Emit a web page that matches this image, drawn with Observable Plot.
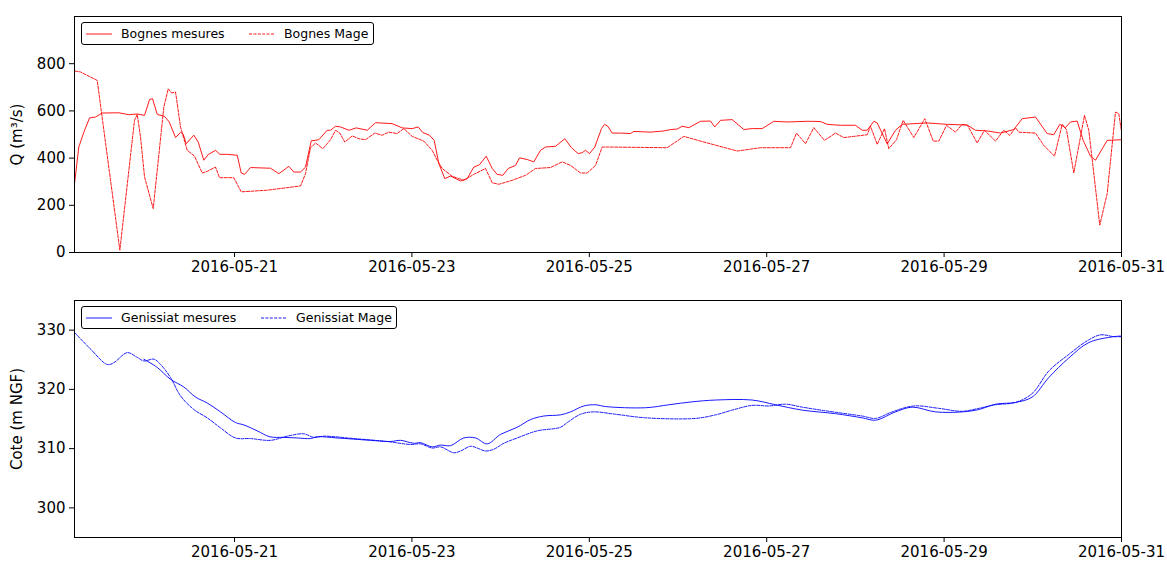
<!DOCTYPE html>
<html>
<head>
<meta charset="utf-8">
<script src="https://cdn.jsdelivr.net/npm/d3@7"></script>
<script src="https://cdn.jsdelivr.net/npm/@observablehq/plot@0.6"></script>
<style>
  html, body { margin: 0; padding: 0; background: #fff; }
  #wrap { position: relative; width: 1167px; height: 561px; font-family: "DejaVu Sans", sans-serif; }
  #wrap svg { display: block; }
  .legend { position: absolute; border: 1px solid #000; border-radius: 3px; background: #fff; box-sizing: border-box; font-size: 12.5px; color: #000; }
  .legend .item { position: absolute; top: 0; height: 100%; display: flex; align-items: center; white-space: nowrap; }
  .legend svg { display: inline-block; }
</style>
</head>
<body>
<div id="wrap"></div>
<script>
// ---- Data (hours since 2016-05-19 00:00 UTC, values) ----
const origin = Date.UTC(2016, 4, 19);
const xStart = "2016-05-19T04:42Z";
const xEnd = "2016-05-31T00:00Z";
const xTicks = ["2016-05-21", "2016-05-23", "2016-05-25", "2016-05-27", "2016-05-29", "2016-05-31"];
const qTicks = [0, 200, 400, 600, 800];
const zTicks = [300, 310, 320, 330];

const bognesMesH = [4.71,5.87,7.23,8.77,10.39,12.20,16.70,19.40,21.67,23.65,25.00,25.81,27.09,29.06,30.33,32.04,33.39,34.12,34.93,36.99,38.18,39.69,40.88,42.86,44.02,46.03,48.73,49.81,50.71,52.33,57.74,59.99,62.69,64.05,65.86,67.21,68.75,70.81,73.08,73.98,75.33,76.68,78.93,80.93,83.91,86.15,90.67,93.38,96.08,97.70,98.95,100.76,102.03,103.28,104.90,106.44,109.15,110.96,112.75,114.29,116.10,117.73,119.08,120.59,122.06,124.03,125.11,127.20,128.98,130.80,132.15,134.85,137.37,139.18,141.00,142.08,142.97,144.05,145.49,147.30,148.11,149.00,150.19,152.44,155.15,156.04,160.56,164.16,165.97,167.78,169.13,170.92,174.09,176.79,177.96,179.50,182.66,185.80,188.08,190.78,193.92,197.54,202.96,206.55,208.37,211.97,216.02,217.84,219.19,220.98,221.90,224.60,226.85,228.66,235.42,240.84,246.25,248.49,251.66,255.26,258.86,261.13,264.73,267.89,269.68,271.30,272.84,274.20,276.01,277.63,279.61,280.96,284.13,288.00];
const bognesMesQ = [292,447,510,570,574,591,592,584,587,581,648,652,585,577,553,487,509,501,461,497,468,391,415,433,416,416,412,337,331,360,357,334,365,341,341,362,473,478,518,518,535,532,518,528,518,550,546,528,525,532,508,497,475,377,313,324,303,313,362,372,408,356,331,327,356,369,401,394,384,433,447,450,482,444,419,423,433,419,447,525,543,535,506,506,504,513,510,515,521,523,535,529,556,557,532,560,563,521,525,525,556,553,556,555,543,539,539,518,518,556,549,460,518,543,549,543,540,518,515,506,521,567,574,504,499,543,529,553,557,475,408,391,475,478];

const bognesMageH = [4.71,6.33,10.85,16.97,20.94,21.67,22.57,23.65,26.00,28.87,30.06,30.95,32.04,33.39,35.20,37.18,39.26,40.61,42.86,43.94,47.81,49.81,56.85,65.86,67.21,68.56,69.92,71.89,73.98,75.33,76.49,77.84,79.85,81.63,83.44,85.96,87.96,89.75,92.02,93.81,96.08,99.22,101.49,102.84,104.20,106.90,110.04,112.75,115.91,117.73,119.51,123.14,126.74,129.44,133.50,136.67,138.91,141.62,143.43,145.68,147.49,148.84,165.08,169.57,174.09,184.02,190.32,198.44,200.06,202.50,204.74,207.64,210.61,212.86,215.56,219.19,220.08,221.90,223.87,225.03,227.12,228.93,231.80,234.78,237.05,238.56,240.65,243.08,244.89,246.33,248.95,250.93,253.90,256.15,257.77,259.32,260.21,264.73,266.97,269.87,271.95,273.11,275.09,277.98,279.15,282.12,284.13,286.37,287.27,288.00];
const bognesMageQ = [769,765,729,10,560,585,489,320,186,616,694,676,680,532,433,408,337,344,362,317,317,257,264,282,334,444,464,440,478,518,506,468,494,482,478,506,497,510,504,525,492,472,433,391,356,323,306,331,356,295,289,306,327,356,360,384,369,337,337,369,447,447,444,492,472,430,444,444,506,461,529,475,506,487,492,499,535,458,525,440,478,560,487,567,472,472,539,510,543,539,464,518,472,518,496,529,510,506,454,408,543,520,337,581,518,116,250,595,588,513];

const genMesH = [23.46,27.09,30.68,34.28,37.45,40.61,44.21,48.27,50.52,54.14,57.55,61.34,64.97,68.56,70.38,75.79,84.80,90.21,92.92,96.51,98.33,101.49,103.74,106.44,110.04,113.21,116.37,119.97,124.49,128.09,131.69,136.21,138.91,142.51,145.68,148.38,159.21,165.51,171.84,178.15,188.08,194.38,201.60,210.61,217.84,221.44,226.85,231.37,237.67,244.89,249.39,253.90,259.32,263.83,268.33,273.74,279.15,285.91,288.00];
const genMesZ = [325.1,323.7,321.7,320.4,318.7,317.7,316.2,314.4,314.0,313.0,312.0,311.9,311.8,311.7,312.0,311.8,311.4,311.2,311.4,310.9,311.0,310.3,310.6,310.5,311.8,311.8,310.8,312.4,313.6,314.9,315.5,315.7,316.2,317.2,317.4,317.1,316.9,317.4,317.9,318.2,318.2,317.4,316.5,315.9,315.2,314.8,316.2,317.0,316.2,316.2,316.6,317.5,317.8,318.7,322.0,325.3,327.9,328.9,329.0];

const genMageH = [4.71,9.04,13.56,15.34,18.97,21.67,23.46,26.17,27.98,30.68,33.39,36.99,40.61,44.21,48.27,52.33,57.74,62.26,66.75,69.46,72.16,80.28,89.32,95.62,98.33,101.49,103.74,107.34,109.15,111.86,113.67,115.91,118.16,120.87,124.49,129.90,136.21,138.02,141.62,145.05,151.09,159.21,172.73,178.15,182.66,188.08,192.57,197.08,201.60,208.80,217.84,221.44,225.95,231.80,238.56,244.89,249.39,253.90,259.32,263.83,268.33,273.74,278.72,282.31,285.91,288.00];
const genMageZ = [329.6,326.8,324.2,324.5,326.2,325.4,324.8,325.1,324.2,322.0,318.9,316.6,315.2,313.5,311.8,311.7,311.4,312.1,312.5,311.9,312.1,311.7,311.2,310.7,310.8,310.1,310.3,309.3,309.6,310.4,310.1,309.6,309.9,310.9,311.8,313.0,313.6,314.4,315.8,316.2,315.8,315.2,315.1,315.7,316.5,317.3,317.2,317.5,317.0,316.3,315.5,315.1,316.2,317.2,316.8,316.3,316.8,317.4,317.8,319.3,323.1,325.9,328.2,329.2,328.9,328.9];

// ---- Build tables ----
const toDate = h => new Date(origin + h * 3600e3);
const table = (hs, vs) => hs.map((h, i) => ({t: toDate(h), v: vs[i]}));
const bMes = table(bognesMesH, bognesMesQ);
const bMage = table(bognesMageH, bognesMageQ);
const gMes = table(genMesH, genMesZ);
const gMage = table(genMageH, genMageZ);

const W = 1167;
const xDomain = [new Date(xStart), new Date(xEnd)];
const xTickDates = xTicks.map(d => new Date(d + "T00:00Z"));
const fmt = d3.utcFormat("%Y-%m-%d");
const baseStyle = {fontSize: "15px", fontFamily: "DejaVu Sans, sans-serif", color: "#000", background: "#fff", overflow: "visible"};

function panel({height, marginTop, marginBottom, yDomain, yTicks, yLabel, lines, color, curve}) {
  return Plot.plot({
    width: W, height, marginTop, marginBottom, marginLeft: 74, marginRight: 46,
    style: baseStyle,
    x: {type: "utc", domain: xDomain},
    y: {domain: yDomain},
    marks: [
      Plot.axisX({ticks: xTickDates, tickFormat: fmt, tickSize: 5, tickPadding: 4, label: null}),
      Plot.axisY({ticks: yTicks, tickSize: 5, tickPadding: 4, label: yLabel, labelAnchor: "center", labelArrow: "none", labelOffset: 63}),
      Plot.lineY(lines[0], {x: "t", y: "v", stroke: color, strokeWidth: 0.9, curve}),
      Plot.lineY(lines[1], {x: "t", y: "v", stroke: color, strokeWidth: 0.9, strokeDasharray: "3,1.4", curve}),
      Plot.frame({stroke: "#000", strokeWidth: 1})
    ]
  });
}

const wrap = document.getElementById("wrap");
wrap.append(panel({height: 280, marginTop: 16, marginBottom: 28, yDomain: [0, 1000], yTicks: qTicks,
  yLabel: "Q (m³/s)", lines: [bMes, bMage], color: "#ff0000", curve: "linear"}));
wrap.append(panel({height: 281, marginTop: 20, marginBottom: 24, yDomain: [295, 335], yTicks: zTicks,
  yLabel: "Cote (m NGF)", lines: [gMes, gMage], color: "#0000ff", curve: "catmull-rom"}));

// ---- Legends ----
function legend(left, top, width, height, color, labels, offsets) {
  const div = document.createElement("div");
  div.className = "legend";
  Object.assign(div.style, {left: left + "px", top: top + "px", width: width + "px", height: height + "px"});
  labels.forEach((lab, i) => {
    const item = document.createElement("div");
    item.className = "item";
    item.style.left = offsets[i] + "px";
    const dash = i === 1 ? ' stroke-dasharray="3,1.4"' : "";
    item.innerHTML = `<svg width="26" height="4"><line x1="0" x2="26" y1="2" y2="2" stroke="${color}" stroke-width="0.9"${dash}/></svg><span style="margin-left:9px">${lab}</span>`;
    div.append(item);
  });
  wrap.append(div);
}
legend(81, 22, 293, 23, "#ff0000", ["Bognes mesures", "Bognes Mage"], [4, 167]);
legend(81, 306, 316, 23, "#0000ff", ["Genissiat mesures", "Genissiat Mage"], [4, 179]);
</script>
</body>
</html>
